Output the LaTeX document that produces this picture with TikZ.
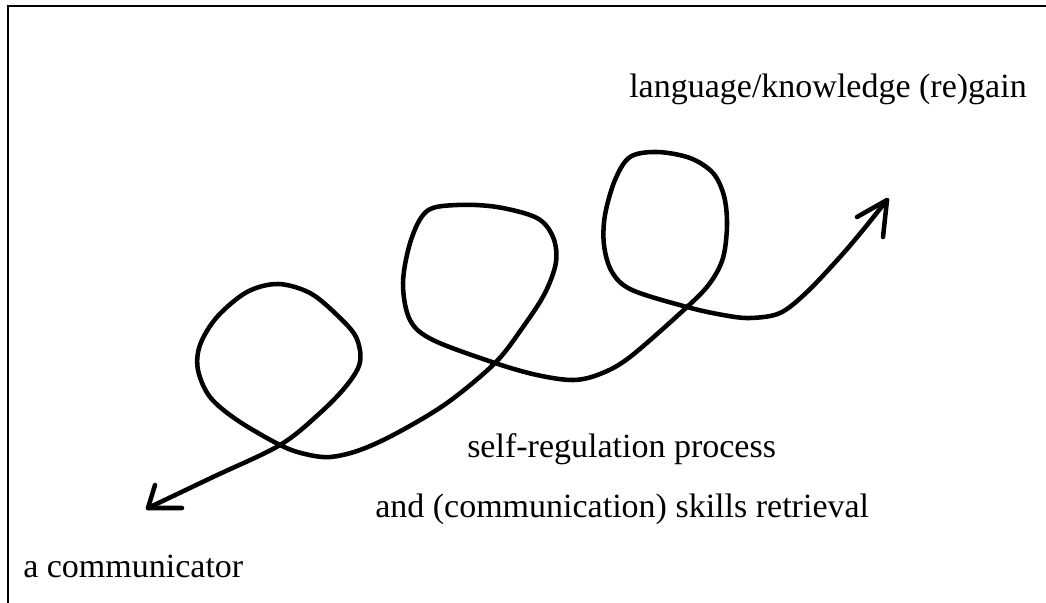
\documentclass[tikz,border=0pt]{standalone}
\usepackage{fontspec}
\setmainfont{Liberation Serif}
\begin{document}
\begin{tikzpicture}[x=0.75pt,y=-0.75pt,
  frame/.style={line width=1.6pt},
  curvestyle/.style={line width=3.4pt,line cap=round,line join=round},
  lbl/.style={font=\fontsize{25.5}{30}\selectfont,inner sep=0pt,anchor=base west}]
\useasboundingbox (0,0) rectangle (1046,603);
% frame (top and left edges)
\draw[frame] (8,603) -- (8,6) -- (1046,6);
% labels
\node[lbl] (goal) at (629,97) {language/knowledge (re)gain};
\node[lbl] (proc) at (467,457) {self-regulation process};
\node[lbl] (retr) at (375,517) {and (communication) skills retrieval};
\node[lbl] (comm) at (23,577) {a communicator};
% named end points
\coordinate (tailtip) at (148,508);
\coordinate (headtip) at (887,200);
% the looping curve
\draw[curvestyle] plot[smooth,tension=0.55] coordinates {
 (tailtip) (213,477) (280,445) (320,413) (347,385) (360,362)
 (356,337) (337,315) (310,293) (278,284) (247,292) (217,317)
 (200,345) (198,370) (210,397) (237,420) (280,445) (305,454) (330,457)
 (360,450) (397,433) (447,403) (495,363) (523,327) (545,293) (556,262)
 (553,237) (537,218) (497,207) (457,205) (427,211) (411,240) (403,283)
 (410,320) (433,340) (495,363) (537,375) (573,380) (600,374) (630,357)
 (687,307) (710,283) (723,258) (727,225) (724,196) (713,173) (690,158) (657,152)
 (630,157) (615,180) (605,215) (604,245) (612,272) (632,290) (687,307)
 (723,315) (750,318) (780,313) (807,292) (840,257) (863,230) (headtip)};
% arrow heads
\draw[curvestyle] (155,485) -- (tailtip) -- (182,508);
\draw[curvestyle] (857,217) -- (headtip) -- (883,237);
\end{tikzpicture}
\end{document}
